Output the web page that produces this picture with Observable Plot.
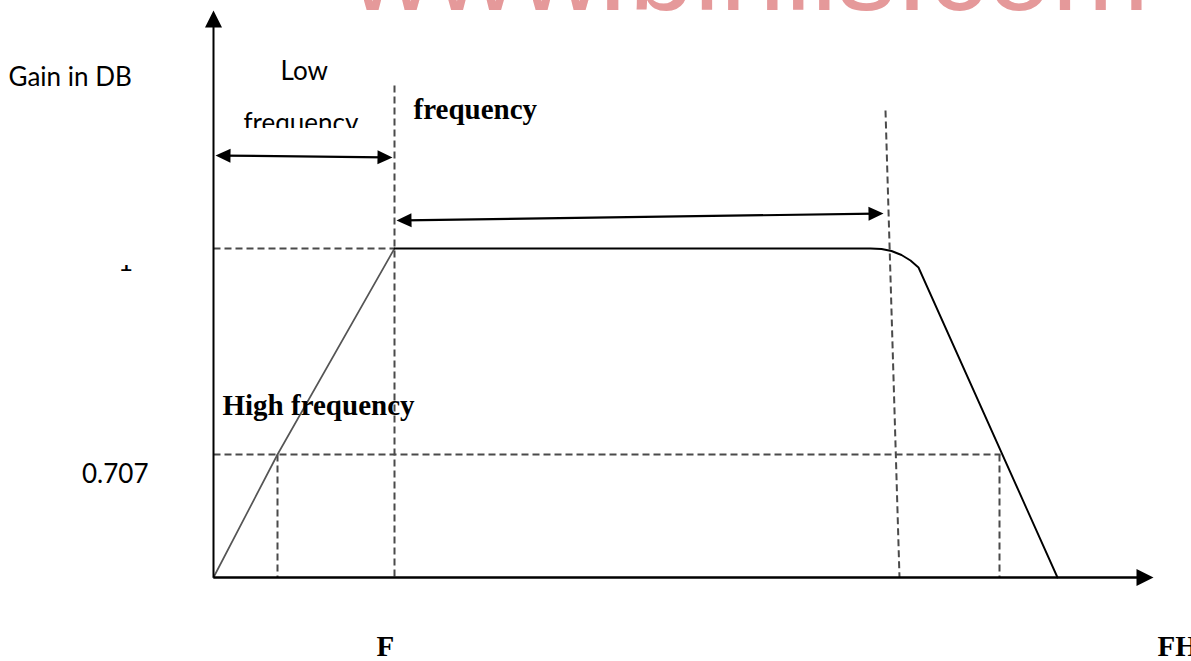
<!DOCTYPE html>
<html><head><meta charset="utf-8">
<script src="https://cdn.jsdelivr.net/npm/d3@7"></script>
<script src="https://cdn.jsdelivr.net/npm/@observablehq/plot@0.6"></script>
<style>html,body{margin:0;padding:0;background:#fff;overflow:hidden}</style>
</head><body><div id="chart"></div>
<script>
// ---- Data (diagram units: frequency offset from origin, gain height above baseline) ----
const riseFreq = [0, 64, 181];
const riseGain = [0, 123, 329];
const bandFreq = [181, 657, 668, 678, 688, 697, 705, 844];
const bandGain = [329, 329, 328.5, 326.5, 322.5, 317, 310, 0];
const gainTickLabels = ["1", "0.707"];
const gainTickValues = [329, 123];
// dashed guide lines: (x1,y1) -> (x2,y2)
const guideX1 = [0, 0, 181, 64, 672, 786];
const guideY1 = [329, 123, 492, 123, 467, 123];
const guideX2 = [181, 787, 181, 64, 686, 786];
const guideY2 = [329, 123, 0, 0, 0, 0];
// double-headed span arrows
const spanX1 = [2, 183];
const spanY1 = [422, 357];
const spanX2 = [179, 670];
const spanY2 = [420, 364];

const GRAY = "#4a4a4a";
const SANS = "Lato, 'Open Sans', sans-serif";
const SERIF = "'Liberation Serif', 'DejaVu Serif', serif";

// filled arrow head, tip at origin pointing up
const head = (L, W) => ({draw(ctx) { ctx.moveTo(0, 0); ctx.lineTo(W, L); ctx.lineTo(-W, L); ctx.closePath(); }});
const rot = (fx, fy, tx, ty) => Math.atan2(-(ty - fy), tx - fx) * 180 / Math.PI + 90;
const shorten = (fx, fy, tx, ty, d) => { const len = Math.hypot(tx - fx, ty - fy); return [tx - (tx - fx) * d / len, ty - (ty - fy) * d / len]; };

const heads = [];
heads.push({x: 0, y: 567, r: rot(0, 0, 0, 567), L: 17, W: 8.5});
heads.push({x: 940, y: 0, r: rot(0, 0, 940, 0), L: 17, W: 8.5});
spanX1.forEach((_, i) => {
  heads.push({x: spanX1[i], y: spanY1[i], r: rot(spanX2[i], spanY2[i], spanX1[i], spanY1[i]), L: 15, W: 7});
  heads.push({x: spanX2[i], y: spanY2[i], r: rot(spanX1[i], spanY1[i], spanX2[i], spanY2[i]), L: 15, W: 7});
});
const shafts = spanX1.map((_, i) => {
  const a = shorten(spanX2[i], spanY2[i], spanX1[i], spanY1[i], 8);
  const b = shorten(spanX1[i], spanY1[i], spanX2[i], spanY2[i], 8);
  return {x1: a[0], y1: a[1], x2: b[0], y2: b[1]};
});
const ticks = gainTickLabels.map((t, i) => ({t, v: gainTickValues[i]}));

const txt = (s, x, y, o = {}) => Plot.text([s], {x, y, text: d => d, textAnchor: "start", lineAnchor: "bottom", fill: "#000", fontFamily: SANS, fontSize: 26, ...o});

const chart = Plot.plot({
  width: 1191, height: 661, margin: 0,
  x: {domain: [-213, 978], axis: null},
  y: {domain: [-84, 577], axis: null},
  style: {background: "#fff"},
  marks: [
    txt("www.binils.com", 136, 568, {fontFamily: "'Liberation Sans', Arial, sans-serif", fontSize: 117, fill: "#e5999a"}),
    Plot.link(guideX1.map((_, i) => i), {x1: i => guideX1[i], y1: i => guideY1[i], x2: i => guideX2[i], y2: i => guideY2[i], stroke: GRAY, strokeWidth: 2, strokeDasharray: "7,4"}),
    Plot.line(riseFreq.map((f, i) => ({f, g: riseGain[i]})), {x: "f", y: "g", stroke: "#555", strokeWidth: 1.7}),
    Plot.line(bandFreq.map((f, i) => ({f, g: bandGain[i]})), {x: "f", y: "g", stroke: "#000", strokeWidth: 1.9}),
    Plot.link([{x1: 0, y1: 0, x2: 0, y2: 553}], {x1: "x1", y1: "y1", x2: "x2", y2: "y2", stroke: "#000", strokeWidth: 2}),
    Plot.link([{x1: 0, y1: 0, x2: 926, y2: 0}], {x1: "x1", y1: "y1", x2: "x2", y2: "y2", stroke: "#000", strokeWidth: 2.6}),
    Plot.link(shafts, {x1: "x1", y1: "y1", x2: "x2", y2: "y2", stroke: "#000", strokeWidth: 2.2}),
    ...heads.map(h => Plot.dot([h], {x: "x", y: "y", rotate: "r", symbol: head(h.L, h.W), fill: "#000", stroke: "none"})),
    txt("Gain in DB", -205, 492),
    txt("Low", 67, 498),
    txt("frequency", 30, 446),
    Plot.text(ticks, {filter: d => d.t === "1", x: -88, y: "v", text: "t", textAnchor: "middle", lineAnchor: "bottom", dy: 22, fontFamily: SANS, fontSize: 26, fill: "#000"}),
    Plot.text(ticks, {filter: d => d.t === "0.707", x: -65, y: "v", text: "t", textAnchor: "end", lineAnchor: "bottom", dy: 28, fontFamily: SANS, fontSize: 26, fill: "#000"}),
    txt("frequency", 200, 459, {fontFamily: SERIF, fontWeight: "bold", fontSize: 29}),
    txt("High frequency", 9, 163, {fontFamily: SERIF, fontWeight: "bold", fontSize: 29}),
    txt("F", 163, -78, {fontFamily: SERIF, fontWeight: "bold", fontSize: 29}),
    txt("FH", 944, -78, {fontFamily: SERIF, fontWeight: "bold", fontSize: 29}),
    // regions cropped out in the original figure
    Plot.rect([{a: 22, b: 160, c: 432, d: 449}], {x1: "a", x2: "b", y1: "c", y2: "d", fill: "#fff"}),
    Plot.rect([{a: -110, b: -66, c: 312, d: 345}], {x1: "a", x2: "b", y1: "c", y2: "d", fill: "#fff"})
  ]
});
document.getElementById("chart").appendChild(chart);
</script></body></html>
